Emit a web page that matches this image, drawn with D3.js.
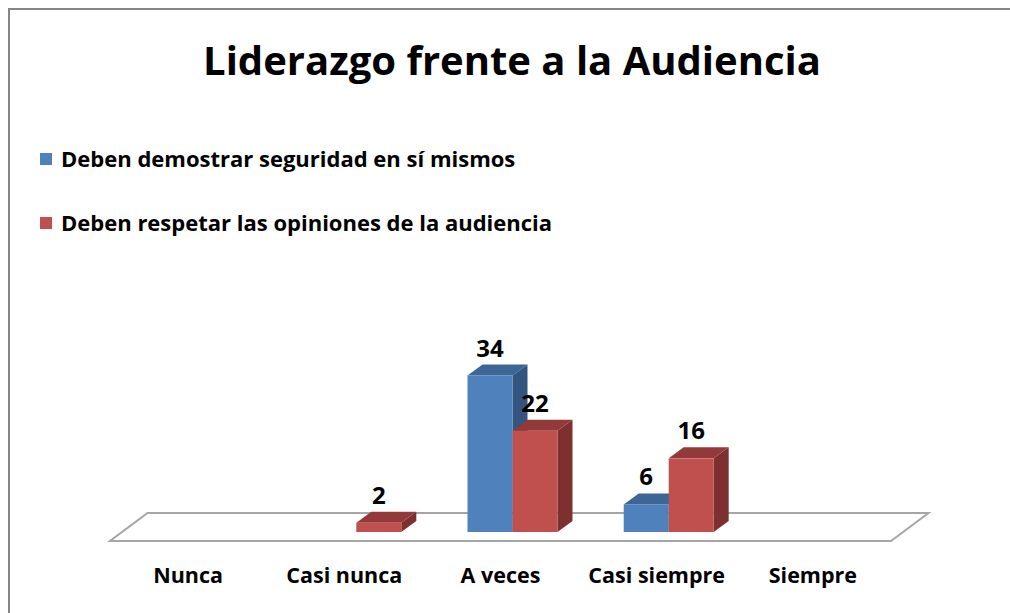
<!DOCTYPE html>
<html>
<head>
<meta charset="utf-8">
<script src="https://cdn.jsdelivr.net/npm/d3@7"></script>
<style>
  body { margin: 0; background: #fff; }
  svg { display: block; font-family: "Open Sans", Lato, sans-serif; }
</style>
</head>
<body>
<div id="chart"></div>
<script>
// Data
const categories = ["Nunca", "Casi nunca", "A veces", "Casi siempre", "Siempre"];
const seriesNames = [
    "Deben demostrar seguridad en sí mismos",
    "Deben respetar las opiniones de la audiencia"
];
const seguridad = [null, null, 34, 6, null];
const respetar = [null, 2, 22, 16, null];

const width = 1010;
const height = 613;

const svg = d3.select("#chart")
    .append("svg")
    .attr("width", width)
    .attr("height", height);

// Chart frame (runs off the right and bottom like the original)
svg.append("rect")
    .attr("x", 9)
    .attr("y", 9)
    .attr("width", 1100)
    .attr("height", 700)
    .attr("fill", "white")
    .attr("stroke", "#868686")
    .attr("stroke-width", 2);

// Title
svg.append("text")
    .attr("x", 512)
    .attr("y", 75)
    .attr("text-anchor", "middle")
    .style("font-size", "40px")
    .style("font-weight", "bold")
    .text("Liderazgo frente a la Audiencia");

// Colors: front, top, side
const colors = [
    { front: "#4F81BD", top: "#3D6595", side: "#34557F" },
    { front: "#C0504D", top: "#93393A", side: "#7E302E" }
];

// Legend
const legend = svg.append("g");
seriesNames.forEach((name, i) => {
    const ly = 159 + i * 64;
    legend.append("rect")
        .attr("x", 40)
        .attr("y", ly - 6)
        .attr("width", 12)
        .attr("height", 12)
        .attr("fill", colors[i].front);
    legend.append("text")
        .attr("x", 61)
        .attr("y", ly + 8)
        .style("font-size", "22px")
        .style("font-weight", "bold")
        .text(name);
});

// 3D layout
const floorFront = 541;
const floorDepth = { dx: 37.5, dy: -28 };
const barOffset = { dx: 12, dy: -9 };   // bars sit slightly back on the floor
const barDepth = { dx: 15, dy: -11 };

const x = d3.scaleBand()
    .domain(categories)
    .range([110, 891]);

const xSub = d3.scaleBand()
    .domain(seriesNames)
    .range([0, x.bandwidth()])
    .paddingInner(0)
    .paddingOuter(0.736);

const y = d3.scaleLinear()
    .domain([0, 34])
    .range([floorFront + barOffset.dy, floorFront + barOffset.dy - 156.5]);

// Floor
const x0 = x.range()[0], x1 = x.range()[1];
svg.append("path")
    .attr("d", `M${x0},${floorFront} L${x1},${floorFront} L${x1 + floorDepth.dx},${floorFront + floorDepth.dy} L${x0 + floorDepth.dx},${floorFront + floorDepth.dy} Z`)
    .attr("fill", "white")
    .attr("stroke", "#a6a6a6")
    .attr("stroke-width", 2);

// Bars
const bars = [];
categories.forEach((c, ci) => {
    [seguridad, respetar].forEach((vals, si) => {
        if (vals[ci] != null) bars.push({ cat: c, s: si, value: vals[ci] });
    });
});

const barG = svg.append("g");
bars.forEach(d => {
    const left = x(d.cat) + xSub(seriesNames[d.s]) + barOffset.dx;
    const right = left + xSub.bandwidth();
    const base = y(0);
    const top = y(d.value);
    const c = colors[d.s];
    const g = barG.append("g");
    // side face
    g.append("path")
        .attr("d", `M${right},${base} L${right + barDepth.dx},${base + barDepth.dy} L${right + barDepth.dx},${top + barDepth.dy} L${right},${top} Z`)
        .attr("fill", c.side);
    // top face
    g.append("path")
        .attr("d", `M${left},${top} L${right},${top} L${right + barDepth.dx},${top + barDepth.dy} L${left + barDepth.dx},${top + barDepth.dy} Z`)
        .attr("fill", c.top);
    // front face
    g.append("rect")
        .attr("x", left)
        .attr("y", top)
        .attr("width", right - left)
        .attr("height", base - top)
        .attr("fill", c.front);
    // value label
    g.append("text")
        .attr("x", (left + right) / 2)
        .attr("y", top + barDepth.dy - 8)
        .attr("text-anchor", "middle")
        .style("font-size", "24px")
        .style("font-weight", "bold")
        .text(d.value);
});

// Category labels
svg.append("g")
    .selectAll("text")
    .data(categories)
    .join("text")
    .attr("x", d => x(d) + x.bandwidth() / 2)
    .attr("y", 583)
    .attr("text-anchor", "middle")
    .style("font-size", "21.5px")
    .style("font-weight", "bold")
    .text(d => d);
</script>
</body>
</html>
